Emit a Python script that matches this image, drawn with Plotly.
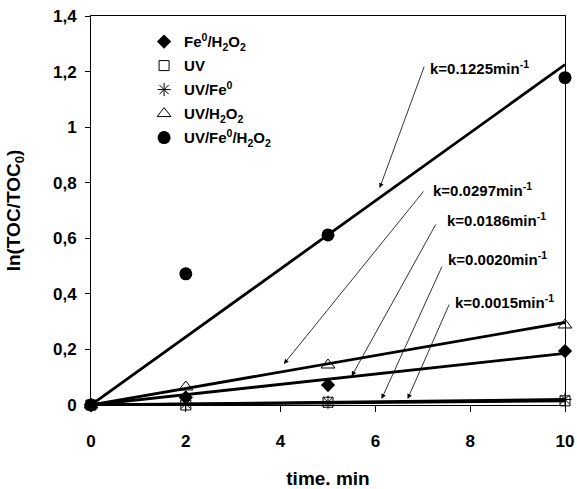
import plotly.graph_objects as go

time_pts = [0, 2, 5, 10]
fe_h2o2 = [0, 0.027, 0.072, 0.194]
uv = [0, 0.0, 0.01, 0.015]
uv_fe = [0, 0.004, 0.01, 0.02]
uv_h2o2 = [0, 0.065, 0.144, 0.288]
uv_fe_h2o2 = [0, 0.472, 0.612, 1.178]

fit_x = [0, 10]
fit_end = {"uv_fe_h2o2": 1.225, "uv_h2o2": 0.297, "fe_h2o2": 0.186, "uv_fe": 0.020, "uv": 0.015}

k_labels = ["k=0.1225min<sup>-1</sup>", "k=0.0297min<sup>-1</sup>", "k=0.0186min<sup>-1</sup>",
            "k=0.0020min<sup>-1</sup>", "k=0.0015min<sup>-1</sup>"]
k_text_pos = [(7.10, 1.216), (7.17, 0.774), (7.46, 0.666), (7.48, 0.529), (7.63, 0.371)]
arrow_tail = [(7.04, 1.223), (7.04, 0.774), (7.29, 0.655), (7.42, 0.504), (7.57, 0.367)]
arrow_head = [(6.09, 0.781), (4.07, 0.148), (5.50, 0.104), (6.13, 0.022), (6.68, 0.022)]

x_ticks = [0, 2, 4, 6, 8, 10]
y_ticks = [0, 0.2, 0.4, 0.6, 0.8, 1.0, 1.2, 1.4]
y_ticktext = ["0", "0,2", "0,4", "0,6", "0,8", "1", "1,2", "1,4"]

FONT = "Liberation Sans"

fig = go.Figure()

# fitted lines
for key in ["uv_fe_h2o2", "uv_h2o2", "fe_h2o2", "uv_fe", "uv"]:
    fig.add_trace(go.Scatter(x=fit_x, y=[0, fit_end[key]], mode="lines",
                             line=dict(color="black", width=2.8), showlegend=False,
                             hoverinfo="skip", cliponaxis=False))

series = [
    ("Fe<sup>0</sup>/H<sub>2</sub>O<sub>2</sub>", fe_h2o2, dict(symbol="diamond", size=11, color="black")),
    ("UV", uv, dict(symbol="square-open", size=10, color="black", line=dict(width=1))),
    ("UV/Fe<sup>0</sup>", uv_fe, dict(symbol="asterisk-open", size=11, color="black", line=dict(width=1, color="black"))),
    ("UV/H<sub>2</sub>O<sub>2</sub>", uv_h2o2, dict(symbol="triangle-up-open", size=12, color="black", line=dict(width=1))),
    ("UV/Fe<sup>0</sup>/H<sub>2</sub>O<sub>2</sub>", uv_fe_h2o2, dict(symbol="circle", size=13, color="black")),
]
for i, (name, vals, mk) in enumerate(series):
    fig.add_trace(go.Scatter(x=time_pts, y=vals, mode="markers", name=name, marker=mk,
                             legendgroup=f"g{i}", cliponaxis=False))

annotations = []
for lab, (tx, ty), (ax, ay), (hx, hy) in zip(k_labels, k_text_pos, arrow_tail, arrow_head):
    annotations.append(dict(x=tx, y=ty, xref="x", yref="y", text=lab, showarrow=False,
                            xanchor="left", yanchor="middle",
                            font=dict(family=FONT, size=15, color="black", weight="bold")))
    annotations.append(dict(x=hx, y=hy, ax=ax, ay=ay, xref="x", yref="y", axref="x", ayref="y",
                            text="", showarrow=True, arrowhead=2, arrowsize=1.2,
                            arrowwidth=0.8, arrowcolor="black"))

fig.update_layout(
    width=577, height=489,
    margin=dict(l=91, r=12, t=16, b=84),
    paper_bgcolor="white", plot_bgcolor="white",
    font=dict(family=FONT, size=17, color="black", weight="bold"),
    showlegend=True,
    legend=dict(x=0.112, y=0.976, xanchor="left", yanchor="top",
                bgcolor="rgba(0,0,0,0)", font=dict(family=FONT, size=15, color="black", weight="bold"),
                tracegroupgap=1.5, itemwidth=30),
    annotations=annotations,
)
fig.update_xaxes(range=[0, 10], tickvals=x_ticks, showgrid=False, zeroline=False,
                 showline=True, linecolor="black", linewidth=1, mirror=True, automargin=False,
                 ticks="outside", ticklen=6, tickcolor="black", ticklabelstandoff=15,
                 title=dict(text="time. min", standoff=28,
                            font=dict(family=FONT, size=19, color="black", weight="bold")))
fig.update_yaxes(range=[0, 1.4], tickvals=y_ticks, ticktext=y_ticktext, showgrid=False,
                 zeroline=False, showline=True, linecolor="black", linewidth=1, mirror=True,
                 automargin=False,
                 ticks="outside", ticklen=5, tickcolor="black", ticklabelstandoff=5,
                 title=dict(text="ln(TOC/TOC<sub>0</sub>)", standoff=27,
                            font=dict(family=FONT, size=19, color="black", weight="bold")))

fig.write_html("out.html", config={"displayModeBar": False},
               post_script="document.body.style.margin='0px';document.body.style.overflow='hidden';")
